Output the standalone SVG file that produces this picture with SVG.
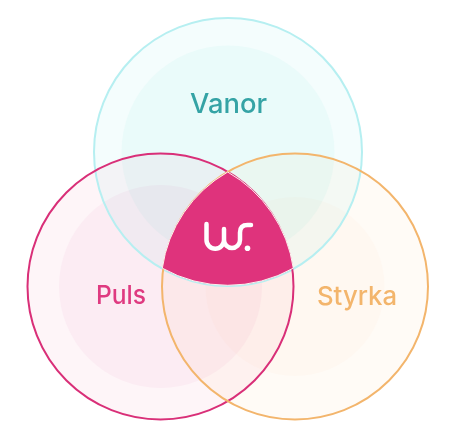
<svg xmlns="http://www.w3.org/2000/svg" width="452" height="448" viewBox="0 0 452 448">
<style>
.c{mix-blend-mode:multiply}
.o{fill:none;stroke-width:2}
.l{font-family:"Inter","Liberation Sans",sans-serif;font-weight:500}
.w{fill:none;stroke:#fff;stroke-width:4.500;stroke-linecap:round}
</style>
<rect width="452" height="448" fill="#fff"/>
<g id="fills">
<g class="c">
<circle cx="228" cy="152" r="134" fill="#f4fdfd"/>
<circle cx="228" cy="152" r="106.500" fill="#eafbfa"/>
</g>
<g class="c">
<circle cx="160.500" cy="286.500" r="133" fill="#fef5f8"/>
<circle cx="160.500" cy="286.500" r="101.500" fill="#fcecf3"/>
</g>
<g class="c">
<circle cx="295" cy="286.500" r="133" fill="#fffbf6"/>
<circle cx="295" cy="286.500" r="89.500" fill="#fff8f1"/>
</g>
</g>
<g id="vanor">
<circle class="o" cx="228" cy="152" r="134" stroke="#b6eff1"/>
<text class="l" x="190" y="113" font-size="27.500" fill="#35a3a5" textLength="77" lengthAdjust="spacingAndGlyphs">Vanor</text>
</g>
<g id="puls">
<circle class="o" cx="160.500" cy="286.500" r="133" stroke="#d92f78"/>
<text class="l" x="96" y="304" font-size="26" fill="#df3a80" textLength="50" lengthAdjust="spacingAndGlyphs">Puls</text>
</g>
<g id="styrka">
<circle class="o" cx="295" cy="286.500" r="133" stroke="#f3b56c"/>
<text class="l" x="317" y="305" font-size="26" fill="#f3b56c" textLength="80" lengthAdjust="spacingAndGlyphs">Styrka</text>
</g>
<g id="center">
<path d="M227.700 172A133 133 0 0 0 162.300 268.200A134 134 0 0 0 293.300 268.200A133 133 0 0 0 227.700 172Z" fill="#df337c" stroke="#fdf0ee" stroke-width="1"/>
<path class="w" d="M206.500 224V240A8.700 8.700 0 0 0 224 240V229M224 240A8 8 0 0 0 240 240V232.500Q240 225 247.500 225H251"/>
<circle cx="247.500" cy="248.200" r="2.800" fill="#fff"/>
</g>
</svg>
